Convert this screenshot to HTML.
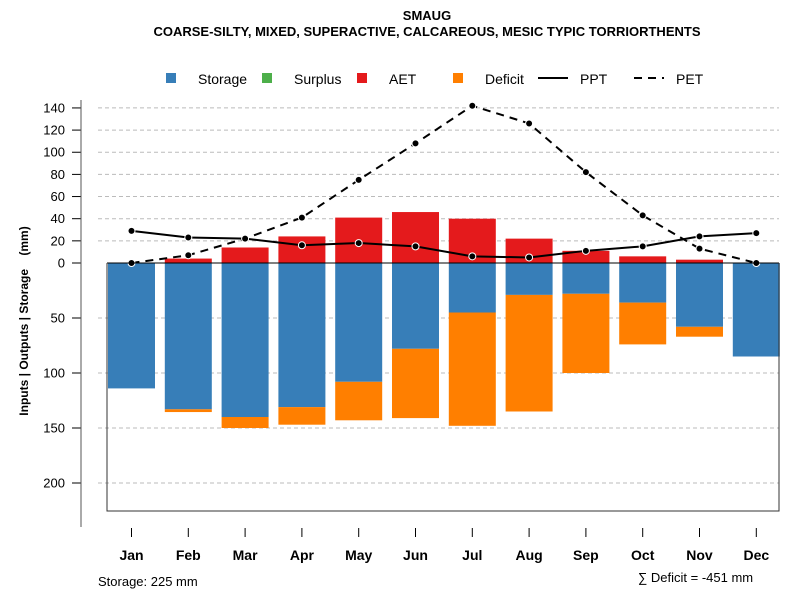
<!DOCTYPE html>
<html><head><meta charset="utf-8"><style>
body{margin:0;background:#fff;font-family:"Liberation Sans",sans-serif}
svg text{font-family:"Liberation Sans",sans-serif}
</style></head><body>
<svg id="c" width="800" height="600" xmlns="http://www.w3.org/2000/svg">
<text x="427" y="20" font-size="13" font-weight="bold" text-anchor="middle">SMAUG</text>
<text x="427" y="36" font-size="13" font-weight="bold" text-anchor="middle">COARSE-SILTY, MIXED, SUPERACTIVE, CALCAREOUS, MESIC TYPIC TORRIORTHENTS</text>
<g id="grid"></g><g id="bars"></g><g id="lines"></g><g id="axes"></g>
<g font-size="14">
<rect x="166" y="73" width="10" height="10" fill="#377eb8"/><text x="198" y="84">Storage</text>
<rect x="262" y="73" width="10" height="10" fill="#4daf4a"/><text x="294" y="84">Surplus</text>
<rect x="357" y="73" width="10" height="10" fill="#e41a1c"/><text x="389" y="84">AET</text>
<rect x="453" y="73" width="10" height="10" fill="#ff7f00"/><text x="485" y="84">Deficit</text>
<line x1="538" y1="78" x2="568" y2="78" stroke="#000" stroke-width="2"/><text x="580" y="84">PPT</text>
<line x1="634" y1="78" x2="664" y2="78" stroke="#000" stroke-width="2" stroke-dasharray="8,6"/><text x="676" y="84">PET</text>
</g>
<text transform="translate(28,321) rotate(-90)" font-size="12" font-weight="bold" text-anchor="middle" xml:space="preserve">Inputs | Outputs | Storage&#160;&#160;&#160;&#160;(mm)</text>
<text x="98" y="586" font-size="13">Storage: 225 mm</text>
<text x="638" y="582" font-size="13">∑ Deficit = -451 mm</text>
</svg>
<script>
const months=["Jan","Feb","Mar","Apr","May","Jun","Jul","Aug","Sep","Oct","Nov","Dec"];
const storage=[114,133,140,131,108,78,45,29,28,36,58,85];
const deficit=[0,2.5,10,16,35,63,103,106,72,38,9,0];
const aet=[0,4,14,24,41,46,40,22,11,6,3,0];
const ppt=[29,23,22,16,18,15,6,5,11,15,24,27];
const pet=[0,7,22,41,75,108,142,126,82,43,13,0];
const upTicks=[0,20,40,60,80,100,120,140];
const downTicks=[50,100,150,200];
const NS="http://www.w3.org/2000/svg";
const y0=263,k=1.1076;
function yUp(v){return y0-v*k;}
function yDown(v){return y0+v*1.1;}
function xC(i){return 131.5+i*56.8;}
const bw=47;
function mk(p,tag,at){const e=document.createElementNS(NS,tag);for(const a in at)e.setAttribute(a,at[a]);document.getElementById(p).appendChild(e);return e;}
upTicks.forEach((t,i)=>{
 if(t>0){const g=mk('grid','line',{x1:98,x2:779,y1:yUp(t),y2:yUp(t),stroke:'#bbb','stroke-dasharray':'4,3'});
 
 }
 const tk=mk('axes','line',{x1:72,x2:81,y1:yUp(t),y2:yUp(t),stroke:'#000'});
 
 
 const tx=mk('axes','text',{x:65,y:yUp(t)+4.5,'font-size':13,'text-anchor':'end'});tx.textContent=t;
 
 
});
downTicks.forEach(t=>{
 const g=mk('grid','line',{x1:98,x2:779,y1:yDown(t),y2:yDown(t),stroke:'#bbb','stroke-dasharray':'4,3'});
 
 
 const tk=mk('axes','line',{x1:72,x2:81,y1:yDown(t),y2:yDown(t),stroke:'#000'});
 
 
 const tx=mk('axes','text',{x:65,y:yDown(t)+4.5,'font-size':13,'text-anchor':'end'});tx.textContent=t;
 
 
});
months.forEach((m,i)=>{
 const x=xC(i)-bw/2;
 const s=mk('bars','rect',{x:x,y:y0,width:bw,height:storage[i]*1.1,fill:'#377eb8'});
 
 
 if(deficit[i]>0){const d=mk('bars','rect',{x:x,y:yDown(storage[i]),width:bw,height:deficit[i]*1.1,fill:'#ff7f00'});
 
 }
 if(aet[i]>0){const a=mk('bars','rect',{x:x,y:yUp(aet[i]),width:bw,height:aet[i]*k,fill:'#e41a1c'});
 
 }
 const tk=mk('axes','line',{x1:xC(i),x2:xC(i),y1:528,y2:537,stroke:'#000'});
 
 
 const tx=mk('axes','text',{x:xC(i),y:560,'font-size':14,'font-weight':'bold','text-anchor':'middle'});tx.textContent=m;
 
 
});
const zl=mk('axes','line',{x1:107,x2:779,y1:y0,y2:y0,stroke:'#000'});


const bx=mk('axes','polyline',{points:'107,263 107,511 779,511 779,263',fill:'none',stroke:'#333'});


const ya=mk('axes','line',{x1:81,x2:81,y1:100,y2:527,stroke:'#555'});


function series(vals,dash,name){
 const p=mk('lines','polyline',{points:vals.map((v,i)=>xC(i)+','+yUp(v)).join(' '),fill:'none',stroke:'#000','stroke-width':2,'stroke-dasharray':dash});
 
 
 vals.forEach((v,i)=>{const c=mk('lines','circle',{cx:xC(i),cy:yUp(v),r:3.5,fill:'#000',stroke:'#fff','stroke-width':1});
 
 });
}
series(pet,'8,6','pet');
series(ppt,'none','ppt');
</script>
</body></html>
